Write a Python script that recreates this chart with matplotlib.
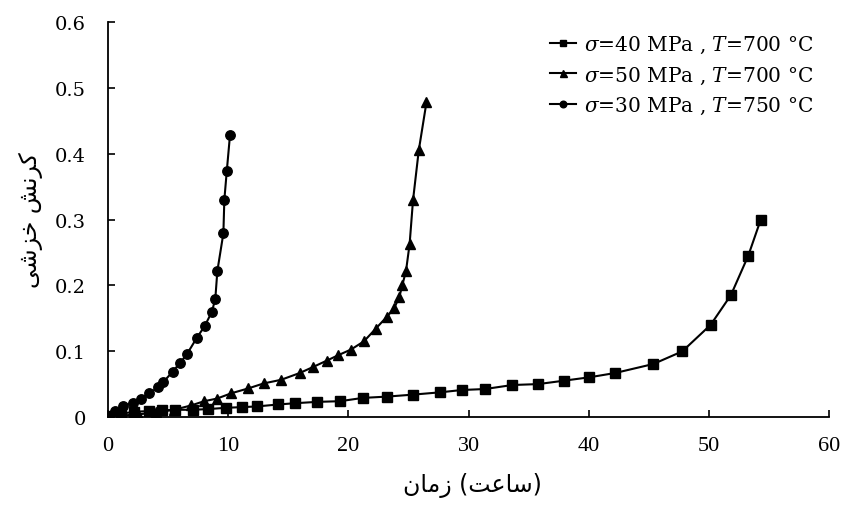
import matplotlib
matplotlib.use("Agg")
import matplotlib.pyplot as plt

# Data: sigma=40 MPa, T=700 C (squares)
t_40 = [0, 1.1, 2.2, 3.44, 4.47, 5.58, 7.1, 8.3, 9.85, 11.12, 12.37, 14.15, 15.6, 17.42,
        19.3, 21.2, 23.22, 25.38, 27.65, 29.43, 31.37, 33.65, 35.8, 37.95, 40.05, 42.19,
        45.38, 47.79, 50.15, 51.84, 53.28, 54.31]
e_40 = [0.002, 0.005, 0.008, 0.009, 0.010, 0.011, 0.011, 0.012, 0.014, 0.015, 0.016, 0.019,
        0.021, 0.023, 0.024, 0.029, 0.031, 0.034, 0.0375, 0.041, 0.0425, 0.0486, 0.050,
        0.0552, 0.0603, 0.0668, 0.0805, 0.0997, 0.140, 0.1853, 0.245, 0.2993]

# sigma=50 MPa, T=700 C (triangles)
t_50 = [0, 1.0, 2.5, 4.0, 5.5, 6.9, 8.0, 9.07, 10.25, 11.68, 12.95, 14.4, 15.95, 17.09,
        18.2, 19.17, 20.22, 21.3, 22.27, 23.19, 23.8, 24.24, 24.5, 24.8, 25.1, 25.38,
        25.86, 26.5]
e_50 = [0.0, 0.002, 0.004, 0.007, 0.011, 0.0175, 0.024, 0.028, 0.036, 0.0435, 0.051,
        0.0565, 0.0668, 0.0762, 0.0856, 0.094, 0.1025, 0.115, 0.134, 0.152, 0.165, 0.182,
        0.201, 0.222, 0.263, 0.329, 0.405, 0.478]

# sigma=30 MPa, T=750 C (circles)
t_30 = [0.03, 0.58, 1.28, 2.05, 2.72, 3.41, 4.19, 4.6, 5.38, 5.99, 6.55, 7.38, 8.04, 8.65,
        8.93, 9.1, 9.6, 9.68, 9.88, 10.15]
e_30 = [0.002, 0.009, 0.016, 0.022, 0.028, 0.036, 0.045, 0.053, 0.069, 0.082, 0.095, 0.12,
        0.138, 0.16, 0.18, 0.222, 0.279, 0.33, 0.373, 0.428]

labels = [r"$\sigma$=40 MPa , $T$=700 °C",
          r"$\sigma$=50 MPa , $T$=700 °C",
          r"$\sigma$=30 MPa , $T$=750 °C"]

x_ticks = [0, 10, 20, 30, 40, 50, 60]
y_ticks = [0, 0.1, 0.2, 0.3, 0.4, 0.5, 0.6]
y_ticklabels = ["0", "0.1", "0.2", "0.3", "0.4", "0.5", "0.6"]

# Persian labels in visual (pre-shaped) order
xlabel = "\uFEE5\uFE8E\uFEE3\uFEAF (\uFE96\uFECB\uFE8E\uFEB3)"      # زمان (ساعت)
ylabel = "\uFBFD\uFEB7\uFEB0\uFEA7 \uFEB6\uFEE7\uFEAE\uFB90"          # کرنش خزشی

plt.rcParams['mathtext.fontset'] = 'dejavuserif'

fig = plt.figure(figsize=(8.58, 5.06), dpi=100)
ax = fig.add_axes([0.1259, 0.1739, 0.8403, 0.7806])

lw = 1.5
ax.plot(t_40, e_40, color='black', lw=lw, marker='s', ms=6.8, label=labels[0])
ax.plot(t_50, e_50, color='black', lw=lw, marker='^', ms=7.2, label=labels[1])
ax.plot(t_30, e_30, color='black', lw=lw, marker='o', ms=6.8, label=labels[2])

ax.set_xlim(0, 60)
ax.set_ylim(0, 0.6)
ax.set_xticks(x_ticks)
ax.set_xticklabels([str(v) for v in x_ticks], family='Liberation Serif', fontsize=16)
ax.set_yticks(y_ticks)
ax.set_yticklabels(y_ticklabels, family='DejaVu Serif', fontsize=14)
ax.tick_params(axis='both', direction='in', length=5, width=1.2)
ax.tick_params(axis='x', pad=14)
ax.tick_params(axis='y', pad=16)

for s in ['top', 'right']:
    ax.spines[s].set_visible(False)
for s in ['left', 'bottom']:
    ax.spines[s].set_linewidth(1.3)

ax.set_xlabel(xlabel, family='DejaVu Sans', fontsize=17)
ax.set_ylabel(ylabel, family='DejaVu Sans', fontsize=17)
ax.xaxis.set_label_coords(0.505, -0.14)
ax.yaxis.set_label_coords(-0.09, 0.50)

leg = ax.legend(loc='upper right', frameon=False, handlelength=1.3, handletextpad=0.4,
                labelspacing=0.45, borderaxespad=0.1, bbox_to_anchor=(0.992, 0.995),
                prop={'family': 'DejaVu Serif', 'size': 14.5}, markerscale=0.7)

fig.savefig("out.png", dpi=100)
